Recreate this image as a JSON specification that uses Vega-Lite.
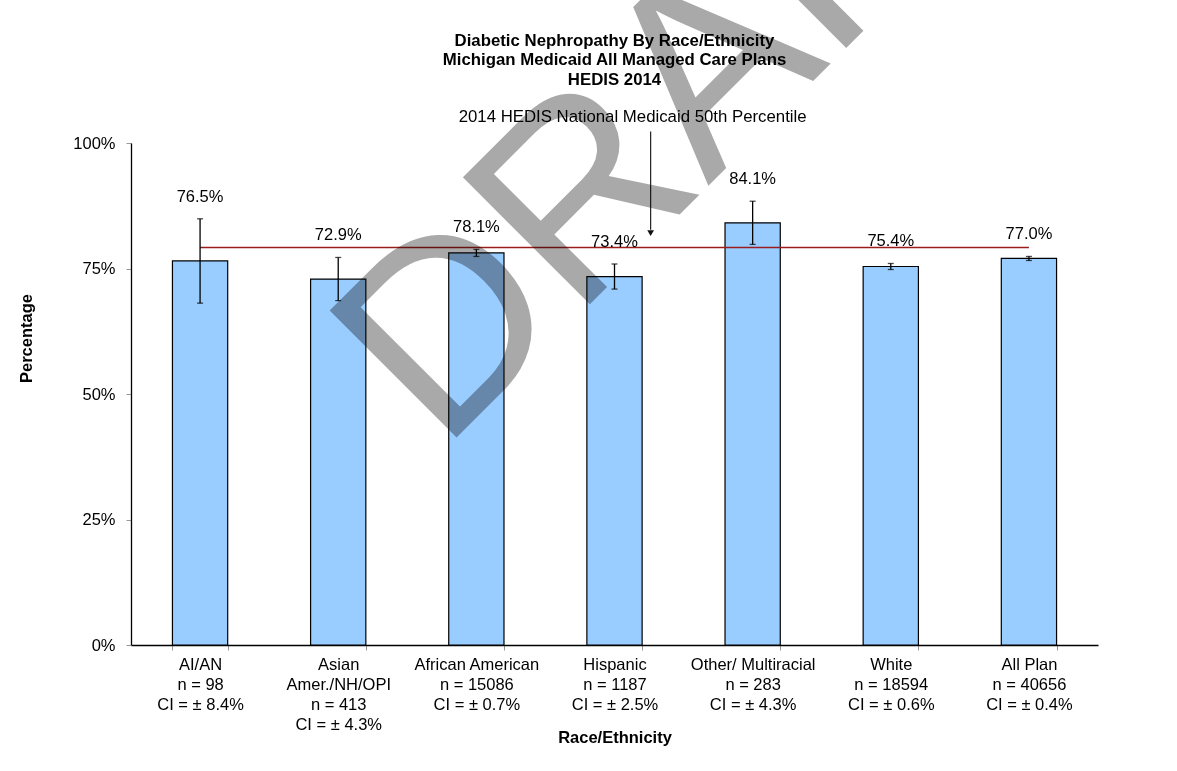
{
  "$schema": "https://vega.github.io/schema/vega-lite/v6.json",
  "autosize": {"type": "none"},
  "width": 967,
  "height": 502,
  "padding": {"left": 131, "top": 143, "right": 79, "bottom": 126},
  "background": "white",
  "title": {
    "text": ["Diabetic Nephropathy By Race/Ethnicity", "Michigan Medicaid All Managed Care Plans", "HEDIS 2014"],
    "fontSize": 16.8,
    "fontWeight": "bold",
    "font": "Liberation Sans",
    "lineHeight": 19.7,
    "anchor": "middle",
    "frame": "group",
    "offset": -399,
    "color": "black"
  },
  "datasets": {
    "rates": [
      {"group": "AI/AN|n = 98|CI = ± 8.4%", "rate": 0.765, "lo": 0.681, "hi": 0.849, "benchmark": 0.792},
      {"group": "Asian|Amer./NH/OPI|n = 413|CI = ± 4.3%", "rate": 0.729, "lo": 0.686, "hi": 0.772, "benchmark": 0.792},
      {"group": "African American|n = 15086|CI = ± 0.7%", "rate": 0.781, "lo": 0.774, "hi": 0.788, "benchmark": 0.792},
      {"group": "Hispanic|n = 1187|CI = ± 2.5%", "rate": 0.734, "lo": 0.709, "hi": 0.759, "benchmark": 0.792},
      {"group": "Other/ Multiracial|n = 283|CI = ± 4.3%", "rate": 0.841, "lo": 0.798, "hi": 0.884, "benchmark": 0.792},
      {"group": "White|n = 18594|CI = ± 0.6%", "rate": 0.754, "lo": 0.748, "hi": 0.760, "benchmark": 0.792},
      {"group": "All Plan|n = 40656|CI = ± 0.4%", "rate": 0.770, "lo": 0.766, "hi": 0.774, "benchmark": 0.792}
    ]
  },
  "config": {
    "font": "Liberation Sans",
    "view": {"stroke": null},
    "axis": {"labelColor": "black", "titleColor": "black", "grid": false}
  },
  "layer": [
    {
      "data": {"name": "rates"},
      "mark": {"type": "bar", "fill": "#99ccff", "stroke": "black", "strokeWidth": 1.2},
      "encoding": {
        "x": {
          "field": "group",
          "type": "nominal",
          "scale": {
            "domain": [
              "AI/AN|n = 98|CI = ± 8.4%",
              "Asian|Amer./NH/OPI|n = 413|CI = ± 4.3%",
              "African American|n = 15086|CI = ± 0.7%",
              "Hispanic|n = 1187|CI = ± 2.5%",
              "Other/ Multiracial|n = 283|CI = ± 4.3%",
              "White|n = 18594|CI = ± 0.6%",
              "All Plan|n = 40656|CI = ± 0.4%"
            ],
            "paddingInner": 0.6,
            "paddingOuter": 0.3
          },
          "title": "Race/Ethnicity",
          "axis": {
            "title": "Race/Ethnicity",
            "titleFontSize": 16.5,
            "titleFontWeight": "bold",
            "titleY": 92,
            "titleBaseline": "middle",
            "labelExpr": "split(datum.label, '|')",
            "labelAngle": 0,
            "labelFontSize": 16.5,
            "labelLineHeight": 20,
            "labelPadding": 6,
            "labelBaseline": "top",
            "labelOverlap": false,
            "labelLimit": 0,
            "tickBand": "extent",
            "tickSize": 5,
            "tickColor": "#999999",
            "domainColor": "black",
            "domainWidth": 1.3
          }
        },
        "y": {
          "field": "rate",
          "type": "quantitative",
          "title": "Percentage",
          "scale": {"domain": [0, 1], "nice": false},
          "axis": {
            "title": "Percentage",
            "values": [0, 0.25, 0.5, 0.75, 1],
            "format": ".0%",
            "labelFontSize": 16.5,
            "labelPadding": 11,
            "tickSize": 5,
            "tickColor": "#999999",
            "domainColor": "black",
            "domainWidth": 1.3,
            "titleX": -105,
            "titleY": 195,
            "titleBaseline": "middle",
            "titleFontSize": 16.5,
            "titleFontWeight": "bold"
          }
        }
      }
    },
    {
      "data": {"name": "rates"},
      "mark": {"type": "line", "color": "#9b1c1c", "strokeWidth": 1.5},
      "encoding": {
        "x": {"field": "group", "type": "nominal", "title": "Race/Ethnicity"},
        "y": {"field": "benchmark", "type": "quantitative", "title": "Percentage"}
      }
    },
    {
      "data": {"name": "rates"},
      "mark": {"type": "errorbar", "ticks": {"size": 6, "thickness": 1.3, "color": "black"}, "rule": {"color": "black", "strokeWidth": 1.3}},
      "encoding": {
        "x": {"field": "group", "type": "nominal", "title": "Race/Ethnicity"},
        "y": {"field": "lo", "type": "quantitative", "title": "Percentage"},
        "y2": {"field": "hi"}
      }
    },
    {
      "data": {"name": "rates"},
      "mark": {"type": "text", "fontSize": 16.5, "baseline": "middle", "dy": -22, "color": "black"},
      "encoding": {
        "x": {"field": "group", "type": "nominal", "title": "Race/Ethnicity"},
        "y": {"field": "hi", "type": "quantitative", "title": "Percentage"},
        "text": {"field": "rate", "type": "quantitative", "format": ".1%"}
      }
    },
    {
      "data": {"values": [{}]},
      "mark": {"type": "text", "text": "2014 HEDIS National Medicaid 50th Percentile", "fontSize": 16.8, "baseline": "middle", "align": "center", "color": "black"},
      "encoding": {
        "x": {"datum": "Hispanic|n = 1187|CI = ± 2.5%", "bandPosition": 0.828},
        "y": {"datum": 1.052, "type": "quantitative"}
      }
    },
    {
      "data": {"values": [{}]},
      "mark": {"type": "rule", "color": "#222222", "strokeWidth": 1.2},
      "encoding": {
        "x": {"datum": "Hispanic|n = 1187|CI = ± 2.5%", "bandPosition": 1.154},
        "y": {"datum": 1.023, "type": "quantitative"},
        "y2": {"datum": 0.827}
      }
    },
    {
      "data": {"values": [{}]},
      "mark": {"type": "point", "shape": "triangle-down", "filled": true, "size": 45, "color": "#111111", "opacity": 1},
      "encoding": {
        "x": {"datum": "Hispanic|n = 1187|CI = ± 2.5%", "bandPosition": 1.154},
        "y": {"datum": 0.8206, "type": "quantitative"}
      }
    },
    {
      "data": {"values": [{}]},
      "mark": {"type": "text", "text": "DRAFT", "font": "Liberation Sans", "fontSize": 261, "angle": -45, "align": "left", "baseline": "alphabetic", "color": "#a9a9a9", "blend": "multiply"},
      "encoding": {
        "x": {"datum": "African American|n = 15086|CI = ± 0.7%", "bandPosition": -0.132},
        "y": {"datum": 0.383, "type": "quantitative"}
      }
    }
  ]
}
